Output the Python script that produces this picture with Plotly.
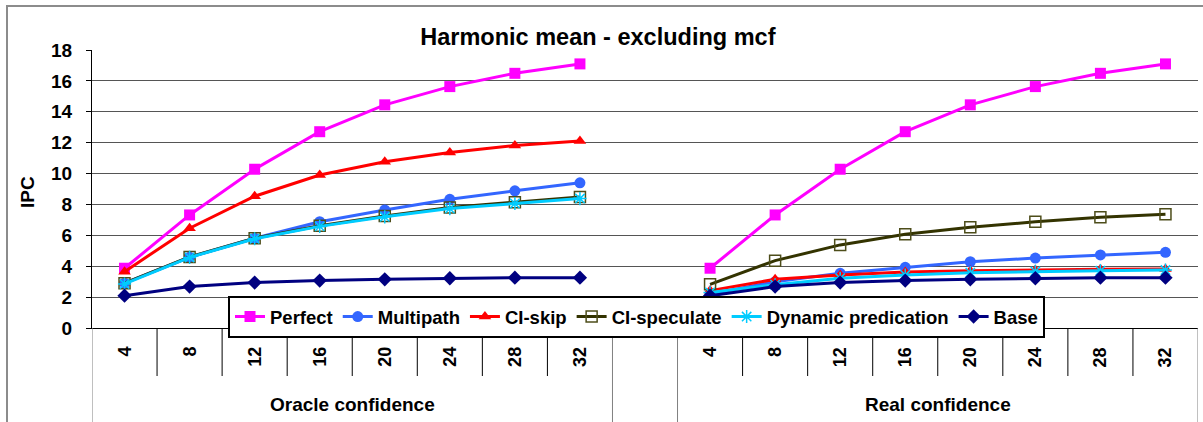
import plotly.graph_objects as go

# Window sizes per group, and the two confidence schemes
sizes = ["4", "8", "12", "16", "20", "24", "28", "32"]
groups = ["Oracle confidence", "Real confidence"]

# IPC harmonic means (excluding mcf), oracle confidence then real confidence
perfect_oracle = [3.87, 7.32, 10.28, 12.71, 14.45, 15.63, 16.49, 17.1]
perfect_real = [3.87, 7.32, 10.28, 12.71, 14.45, 15.63, 16.49, 17.1]
multipath_oracle = [2.9, 4.58, 5.81, 6.88, 7.64, 8.33, 8.88, 9.4]
multipath_real = [2.2, 3.0, 3.54, 3.93, 4.29, 4.53, 4.73, 4.9]
ciskip_oracle = [3.65, 6.46, 8.53, 9.91, 10.77, 11.37, 11.81, 12.11]
ciskip_real = [2.42, 3.15, 3.43, 3.62, 3.7, 3.76, 3.8, 3.82]
cispec_oracle = [2.9, 4.6, 5.81, 6.62, 7.25, 7.8, 8.15, 8.48]
cispec_real = [2.83, 4.36, 5.38, 6.07, 6.52, 6.88, 7.17, 7.36]
dynpred_oracle = [2.85, 4.57, 5.78, 6.58, 7.2, 7.73, 8.06, 8.38]
dynpred_real = [2.3, 2.8, 3.22, 3.43, 3.58, 3.66, 3.71, 3.75]
base_oracle = [2.09, 2.68, 2.94, 3.07, 3.15, 3.22, 3.26, 3.26]
base_real = [2.09, 2.68, 2.94, 3.07, 3.15, 3.22, 3.26, 3.26]

FONT = "Liberation Sans, Arial, sans-serif"

# Category axis: 8 oracle slots, one empty spacer slot, 8 real slots
cats = [f"{groups[0]} {s}" for s in sizes] + ["spacer"] + [f"{groups[1]} {s}" for s in sizes]


def join(left, right):
    return list(left) + [None] + list(right)


series = [
    ("Perfect", perfect_oracle, perfect_real, "#FF00FF",
     dict(symbol="square", size=11, color="#FF00FF")),
    ("Multipath", multipath_oracle, multipath_real, "#3366FF",
     dict(symbol="circle", size=11, color="#3366FF")),
    ("CI-skip", ciskip_oracle, ciskip_real, "#FF0000",
     dict(symbol="triangle-up", size=11, color="#FF0000")),
    ("CI-speculate", cispec_oracle, cispec_real, "#333300",
     dict(symbol="square-open", size=11, color="#4D4D1A", line=dict(width=1.5, color="#4D4D1A"))),
    ("Dynamic predication", dynpred_oracle, dynpred_real, "#00CCFF",
     dict(symbol="asterisk-open", size=11, color="#00CCFF", line=dict(width=1.5, color="#00CCFF"))),
    ("Base", base_oracle, base_real, "#000080",
     dict(symbol="diamond", size=11, color="#000080")),
]

fig = go.Figure()
for name, left, right, color, marker in series:
    fig.add_trace(go.Scatter(
        x=cats, y=join(left, right), name=name, mode="lines+markers",
        line=dict(color=color, width=3), marker=marker, connectgaps=False,
    ))

# Pixel helpers for paper coordinates (plot area spans 92..1198 x, 50..328 y)
PL, PR, PT, PB = 92, 1198, 50, 328


def py(pix):
    return (PB - pix) / (PB - PT)


def px(pix):
    return (pix - PL) / (PR - PL)


shapes = []
# Table-like category axis: short dividers inside groups, long ones at group edges
n = len(cats)
for i in range(n + 1):
    xb = i - 0.5
    long_line = i in (0, 8, 9, n)
    shapes.append(dict(
        type="line", xref="x", yref="paper", x0=xb, x1=xb,
        y0=0, y1=py(430) if long_line else py(376),
        line=dict(color="#808080" if long_line else "#000000", width=1),
    ))
# Outer chart border
shapes.append(dict(
    type="rect", xref="paper", yref="paper",
    x0=px(7), x1=px(1212), y0=py(6), y1=py(440),
    line=dict(color="#8C8C8C", width=2), layer="below",
))

annotations = []
for c in cats:
    if c == "spacer":
        continue
    annotations.append(dict(
        x=c, xref="x", y=py(345), yref="paper", text=c.split(" ")[-1],
        textangle=-90, showarrow=False, yanchor="top", xanchor="center",
        font=dict(family=FONT, size=18, color="#000000", weight="bold"),
    ))
for g, center in zip(groups, (3.5, 12.5)):
    annotations.append(dict(
        x=center, xref="x", y=py(404), yref="paper", text=g,
        showarrow=False, yanchor="middle", xanchor="center",
        font=dict(family=FONT, size=19, color="#000000", weight="bold"),
    ))
annotations.append(dict(
    x=px(28), xref="paper", y=py(192), yref="paper", text="IPC",
    textangle=-90, showarrow=False, xanchor="center", yanchor="middle",
    font=dict(family=FONT, size=19, color="#000000", weight="bold"),
))

fig.update_layout(
    width=1203, height=422,
    margin=dict(l=PL, r=1203 - PR, t=PT, b=422 - PB),
    paper_bgcolor="white", plot_bgcolor="white",
    title=dict(
        text="Harmonic mean - excluding mcf", x=0.497, xref="container",
        y=1 - 37 / 422, yref="container", yanchor="middle", xanchor="center",
        font=dict(family=FONT, size=23.5, color="#000000", weight="bold"),
    ),
    xaxis=dict(
        type="category", categoryorder="array", categoryarray=cats,
        range=[-0.5, n - 0.5], showticklabels=False, showgrid=False,
        showline=True, linecolor="#000000", linewidth=1, ticks="", zeroline=False,
    ),
    yaxis=dict(
        range=[0, 18], dtick=2, showgrid=True, gridcolor="#555555", gridwidth=1,
        showline=True, linecolor="#000000", linewidth=1, ticks="outside",
        ticklen=5, tickcolor="#000000", ticklabelstandoff=10, zeroline=False,
        tickfont=dict(family=FONT, size=19, color="#000000", weight="bold"),
    ),
    legend=dict(
        orientation="h", x=px(228), y=py(296), xanchor="left", yanchor="top",
        bgcolor="white", bordercolor="#000000", borderwidth=2,
        font=dict(family=FONT, size=18.5, color="#000000", weight="bold"),
        itemwidth=30, tracegroupgap=0,
    ),
    shapes=shapes, annotations=annotations,
)

fig.write_html("out.html")
